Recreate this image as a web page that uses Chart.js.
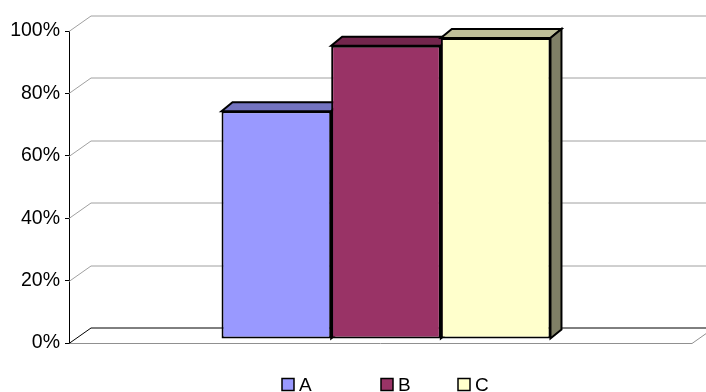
<!DOCTYPE html>
<html>
<head>
<meta charset="utf-8">
<script src="https://cdn.jsdelivr.net/npm/chart.js@4/dist/chart.umd.min.js"></script>
<style>
  html, body { margin: 0; padding: 0; background: #fff; }
  #wrap { width: 706px; height: 392px; position: relative; }
</style>
</head>
<body>
<div id="wrap"><canvas id="resultChart"></canvas></div>
<script>
const categories = [''];
const seriesNames = ['A', 'B', 'C'];
const valuesA = [73];
const valuesB = [94];
const valuesC = [96.5];
const tickValues = [0, 20, 40, 60, 80, 100];

const frontColors = ['#9999ff', '#993366', '#ffffcc'];
const topColors = ['#7373c0', '#73264d', '#bfbf99'];
const sideColors = ['#4d4d80', '#4d1a33', '#808066'];

const FONT = '"Liberation Sans", Arial, sans-serif';

// depth of the back wall and of the bars (pixels)
const WALL_DX = 22, WALL_DY = -15.5;
const BAR_SHIFT_X = 5.5, BAR_SHIFT_Y = -4;
const BAR_DX = 11, BAR_DY = -9;

function poly(ctx, pts, fill) {
  ctx.beginPath();
  ctx.moveTo(pts[0][0], pts[0][1]);
  for (let i = 1; i < pts.length; i++) ctx.lineTo(pts[i][0], pts[i][1]);
  ctx.closePath();
  ctx.fillStyle = fill;
  ctx.fill();
  ctx.stroke();
}

function line(ctx, x1, y1, x2, y2, color) {
  ctx.beginPath();
  ctx.strokeStyle = color;
  ctx.moveTo(x1, y1);
  ctx.lineTo(x2, y2);
  ctx.stroke();
}

const box3d = {
  id: 'box3d',
  beforeDatasetsDraw(chart) {
    const ctx = chart.ctx;
    const area = chart.chartArea;
    const y = chart.scales.y;

    // back wall grid + left wall diagonals
    ctx.save();
    ctx.lineWidth = 1;
    tickValues.forEach(v => {
      const py = Math.round(y.getPixelForValue(v)) + 0.5;
      if (v === 0) return;
      line(ctx, area.left, py, area.left + WALL_DX, py + WALL_DY, '#a0a0a0');
      line(ctx, area.left + WALL_DX, py + WALL_DY, area.right + WALL_DX, py + WALL_DY, '#a0a0a0');
    });

    // floor
    const y0 = Math.round(y.getPixelForValue(0)) + 0.5;
    line(ctx, area.left, y0, area.right, y0, '#909090');
    line(ctx, area.right, y0, area.right + WALL_DX, y0 + WALL_DY, '#909090');
    line(ctx, area.left, y0, area.left + WALL_DX, y0 + WALL_DY, '#000');
    line(ctx, area.left + WALL_DX, y0 + WALL_DY, area.right + WALL_DX, y0 + WALL_DY, '#000');

    // tops and sides of the bars, left to right
    ctx.lineWidth = 2;
    ctx.strokeStyle = '#000';
    ctx.lineJoin = 'miter';
    chart.data.datasets.forEach((ds, i) => {
      chart.getDatasetMeta(i).data.forEach(bar => {
        const p = bar.getProps(['x', 'y', 'base', 'width'], true);
        const x0 = p.x - p.width / 2 + BAR_SHIFT_X;
        const x1 = p.x + p.width / 2 + BAR_SHIFT_X;
        const yt = p.y + BAR_SHIFT_Y;
        const yb = p.base + BAR_SHIFT_Y;
        poly(ctx, [[x0, yt], [x1, yt], [x1 + BAR_DX, yt + BAR_DY], [x0 + BAR_DX, yt + BAR_DY]], topColors[i]);
        poly(ctx, [[x1, yt], [x1 + BAR_DX, yt + BAR_DY], [x1 + BAR_DX, yb + BAR_DY], [x1, yb]], sideColors[i]);
      });
    });
    ctx.restore();

    // the front faces are drawn by Chart.js, set back a little from the floor edge
    ctx.save();
    ctx.translate(BAR_SHIFT_X, BAR_SHIFT_Y);
  },
  afterDatasetsDraw(chart) {
    chart.ctx.restore();
  }
};

// legend under the chart
const bottomLegend = {
  id: 'bottomLegend',
  afterDraw(chart, args, opts) {
    const ctx = chart.ctx;
    ctx.save();
    ctx.font = '19px ' + FONT;
    ctx.textBaseline = 'middle';
    ctx.textAlign = 'left';
    chart.data.datasets.forEach((ds, i) => {
      const x = opts.itemX[i];
      const yc = opts.y;
      ctx.fillStyle = ds.backgroundColor;
      ctx.fillRect(x, yc - 6, 12, 12);
      ctx.lineWidth = 1.5;
      ctx.strokeStyle = '#000';
      ctx.strokeRect(x, yc - 6, 12, 12);
      ctx.fillStyle = '#000';
      ctx.fillText(ds.label, x + 17, yc + 1);
    });
    ctx.restore();
  }
};

const seriesValues = [valuesA, valuesB, valuesC];

new Chart(document.getElementById('resultChart'), {
  type: 'bar',
  data: {
    labels: categories,
    datasets: seriesNames.map((name, i) => ({
      label: name,
      data: seriesValues[i],
      backgroundColor: frontColors[i],
      borderColor: '#000',
      borderWidth: 2,
      borderSkipped: false,
      clip: false
    }))
  },
  options: {
    responsive: true,
    maintainAspectRatio: false,
    animation: false,
    devicePixelRatio: 1,
    categoryPercentage: 0.528,
    barPercentage: 1,
    layout: { padding: { top: 31, right: 14, bottom: 49, left: 0 } },
    plugins: {
      legend: { display: false },
      tooltip: { enabled: false },
      bottomLegend: { itemX: [282, 381, 458], y: 384.5 }
    },
    scales: {
      x: { display: false },
      y: {
        min: 0,
        max: 100,
        afterFit(scale) { scale.width = 69; },
        afterBuildTicks(scale) { scale.ticks = tickValues.map(v => ({ value: v })); },
        ticks: {
          callback: v => v + '%',
          color: '#000',
          padding: 5,
          font: { family: FONT, size: 19.5 }
        },
        grid: { drawOnChartArea: false, color: '#000', tickLength: 4, lineWidth: 1 },
        border: { color: '#000', width: 1 }
      }
    }
  },
  plugins: [box3d, bottomLegend]
});
</script>
</body>
</html>
